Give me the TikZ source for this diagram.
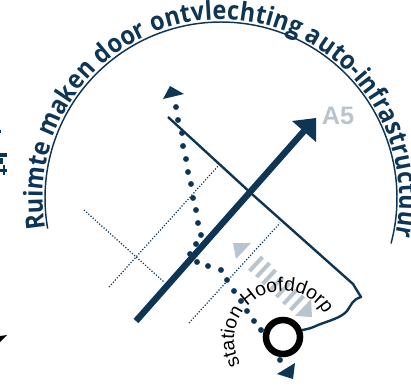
\documentclass[tikz,border=0pt]{standalone}
\usepackage{fontspec}
\setmainfont{Open Sans}
\usetikzlibrary{decorations.text}
\definecolor{navy}{HTML}{0F3554}
\definecolor{lightgrey}{HTML}{B9C5CE}
\newfontfamily\labelfont{Liberation Sans}
\newfontfamily\titlefont[FakeStretch=0.9]{Open Sans}
\tikzset{
  thinroute/.style={navy,line width=1.8pt,line join=round},
  fineline/.style={navy,line width=0.9pt,dash pattern=on 0.9pt off 1.3pt},
  routedot/.style={navy,fill=navy,draw=none},
  headfill/.style={fill=navy,draw=none},
  greyfill/.style={fill=lightgrey,draw=none},
  stripe/.style={lightgrey,line width=3pt},
}
\begin{document}
\begin{tikzpicture}[x=0.75pt,y=-0.75pt]
\useasboundingbox (0,0) rectangle (411,390);
% title arc
\draw[navy,line width=1.1pt] plot[domain=170:375,samples=120] ({221+176*cos(\x)},{198+176*sin(\x)});
\path[decorate,decoration={text along path,raise=1.8pt,text align=left,
  text={|\titlefont\fontsize{19.5pt}{22pt}\selectfont\bfseries\color{navy}|Ruimte maken door ontvlechting auto-infrastructuur}}]
  plot[domain=170:380,samples=200] ({221+176*cos(\x)},{198+176*sin(\x)});
% fragments at the left edge
\fill[navy] (0,153) rectangle (7,157);
\fill[navy] (0,158) rectangle (2.5,164);
\fill[navy] (0,168.5) rectangle (7,171.5);
\fill[navy] (2.5,165) rectangle (5,175);
\fill[navy] (0,130) rectangle (1,133);
\fill[black] (0,336) -- (7,335) -- (0,342) -- cycle;
% fine lines
\coordinate (f1a) at (84,210); \coordinate (f1b) at (164,282);
\coordinate (f2a) at (109,287); \coordinate (f2b) at (219,165);
\coordinate (f3a) at (189,323); \coordinate (f3b) at (280,223);
\draw[fineline] (f1a) -- (f1b);
\draw[fineline] (f2a) -- (f2b);
\draw[fineline] (f3a) -- (f3b);
% thick arrow
\coordinate (a5s) at (136,321); \coordinate (a5e) at (304,131);
\draw[navy,line width=4.8pt] (a5s) -- (a5e);
\fill[headfill] (292,121) -- (316,118) -- (316,142) -- cycle;
\node[text=lightgrey,font=\labelfont\bfseries\fontsize{19pt}{19pt}\selectfont,inner sep=0pt] (a5) at (338,115.5) {A5};
% grey shuttle
\fill[greyfill] (233,243) -- (251,243) -- (236,259) -- cycle;
\fill[greyfill] (311,299) -- (312,317) -- (295,316) -- cycle;
\foreach \cx/\cy in {256/264,263/270,269/277,276/284,283/290,290/297,297/303}
  \draw[stripe] ({\cx-6.5},{\cy+7}) -- ({\cx+6.5},{\cy-7});
% station ring and thin route
\node[circle,draw=black,line width=4.9pt,minimum size=25.5pt,inner sep=0pt] (st) at (283,337) {};
\coordinate (r1) at (168,117); \coordinate (r2) at (253,195); \coordinate (r3) at (353,284); \coordinate (r4) at (361,297);
\draw[thinroute] (r1) -- (r2) -- (r3) -- (r4) .. controls (352,300) and (352,304) .. (347,311) .. controls (341,318) and (328,321) .. (318,325) .. controls (312,328) and (308,329) .. (st.20);
% dots
\foreach \px/\py in {176/107,178/120,182/133,183/146,186/159,188/172,191/184,193/198,196/210,198/223,201/235,196/244,190/254,197/262,208/266,221/270,227/280,234/291,241/301,247/311,254/321,261/330,280/360}
  \fill[routedot] (\px,\py) circle (2.2pt);
\fill[headfill] (170,86) -- (184,94) -- (163,99) -- cycle;
\fill[headfill] (295,363) -- (293,379) -- (277,374) -- cycle;
% station label
\path[decorate,decoration={text along path,text align=left,
  text={|\labelfont\fontsize{14.5pt}{17pt}\selectfont\color{black}|station Hoofddorp}}]
  plot[domain=150:345,samples=120] ({283+49*cos(\x)},{340+49*sin(\x)});
\end{tikzpicture}
\end{document}
